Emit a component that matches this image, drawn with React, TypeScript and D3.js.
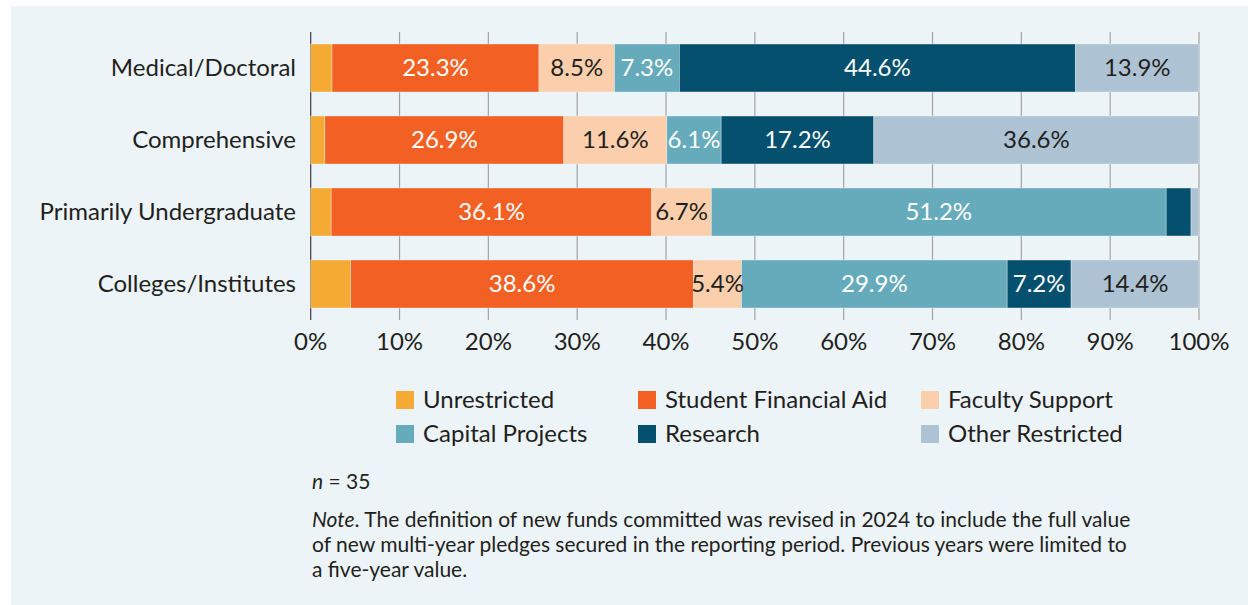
import React from "react";
import * as d3 from "d3";

const categories = ["Medical/Doctoral", "Comprehensive", "Primarily Undergraduate", "Colleges/Institutes"];
const seriesNames = ["Unrestricted", "Student Financial Aid", "Faculty Support", "Capital Projects", "Research", "Other Restricted"];
// share of funds per category, in series order
const unrestricted = [2.4, 1.6, 2.3, 4.5];
const studentAid = [23.3, 26.9, 36.1, 38.6];
const facultySupport = [8.5, 11.6, 6.7, 5.4];
const capitalProjects = [7.3, 6.1, 51.2, 29.9];
const research = [44.6, 17.2, 2.8, 7.2];
const otherRestricted = [13.9, 36.6, 0.9, 14.4];
const xTicks = [0, 10, 20, 30, 40, 50, 60, 70, 80, 90, 100];
const noteLines = [
  "The definition of new funds committed was revised in 2024 to include the full value",
  "of new multi-year pledges secured in the reporting period. Previous years were limited to",
  "a five-year value.",
];

const colors = ["#f4aa33", "#f26023", "#fbcfab", "#66abbb", "#04506e", "#adc3d4"];
const darkLabel = [false, false, true, false, false, true];

export default function App() {
  const width = 1248;
  const height = 605;
  const font = "Lato, 'Open Sans', sans-serif";
  const textColor = "#231f20";

  const x = d3.scaleLinear().domain([0, 100]).range([310.7, 1199]);
  const y = d3.scaleBand().domain(categories).range([32, 320]).paddingInner(1 / 3).paddingOuter(1 / 6);

  const rows = categories.map((c, i) => {
    const obj: any = { cat: c };
    const vals = [unrestricted, studentAid, facultySupport, capitalProjects, research, otherRestricted];
    seriesNames.forEach((s, j) => (obj[s] = vals[j][i]));
    return obj;
  });
  const stacked = d3.stack().keys(seriesNames)(rows);

  const legendCols = [396, 638, 921];
  const legendRows = [391, 425];

  return (
    <svg width={width} height={height} style={{ position: "absolute", left: 0, top: 0 }} fontFamily={font}>
      <rect x={11} y={6} width={width - 11} height={height - 6} fill="#ecf4f8" />

      {/* grid */}
      {xTicks.map((t) => (
        <line key={t} x1={x(t)} x2={x(t)} y1={32} y2={320} stroke={t === 0 ? "#3a3a3a" : "#a3a3a3"} strokeWidth={1.2} />
      ))}

      {/* bars */}
      {stacked.map((layer, j) =>
        layer.map((d: any, i) => (
          <rect
            key={`${j}-${i}`}
            x={x(d[0])}
            y={y(categories[i])}
            width={x(d[1]) - x(d[0])}
            height={y.bandwidth()}
            fill={colors[j]}
            stroke="#ecf4f8"
            strokeWidth={0.4}
          />
        ))
      )}

      {/* value labels */}
      {stacked.map((layer, j) =>
        layer.map((d: any, i) => {
          const v = d[1] - d[0];
          if (v < 5) return null;
          return (
            <text
              key={`l${j}-${i}`}
              x={(x(d[0]) + x(d[1])) / 2}
              y={(y(categories[i]) as number) + y.bandwidth() / 2}
              dy="0.35em"
              textAnchor="middle"
              fontSize={24}
              fill={darkLabel[j] ? textColor : "#ffffff"}
            >
              {v.toFixed(1)}%
            </text>
          );
        })
      )}

      {/* category labels */}
      {categories.map((c) => (
        <text
          key={c}
          x={296}
          y={(y(c) as number) + y.bandwidth() / 2}
          dy="0.35em"
          textAnchor="end"
          fontSize={24}
          fill={textColor}
        >
          {c}
        </text>
      ))}

      {/* x tick labels */}
      {xTicks.map((t) => (
        <text key={`t${t}`} x={x(t)} y={349.5} textAnchor="middle" fontSize={24} fill={textColor}>
          {t}%
        </text>
      ))}

      {/* legend */}
      {seriesNames.map((s, j) => {
        const cx = legendCols[j % 3];
        const cy = legendRows[Math.floor(j / 3)];
        return (
          <g key={s}>
            <rect x={cx} y={cy} width={18} height={18} fill={colors[j]} />
            <text x={cx + 27} y={cy + 9} dy="0.35em" fontSize={24} fill={textColor}>
              {s}
            </text>
          </g>
        );
      })}

      {/* notes */}
      <text x={312} y={489} fontSize={21} fill={textColor}>
        <tspan fontStyle="italic">n</tspan> = 35
      </text>
      {noteLines.map((line, i) => (
        <text key={i} x={312} y={527 + i * 25} fontSize={21} fill={textColor}>
          {i === 0 && <tspan fontStyle="italic">Note</tspan>}
          {i === 0 ? ". " + line : line}
        </text>
      ))}
    </svg>
  );
}
